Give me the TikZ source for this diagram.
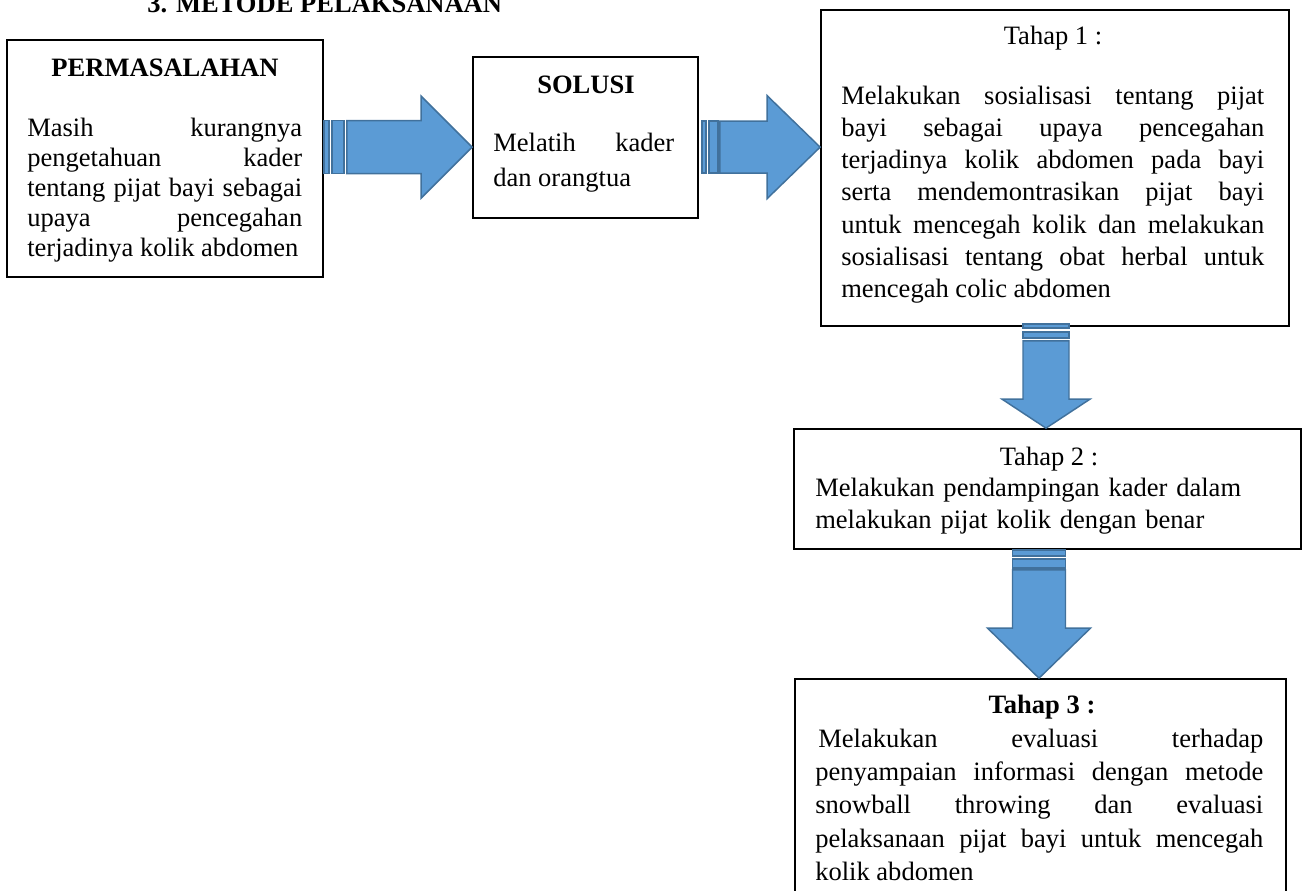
\documentclass[tikz,border=0pt]{standalone}
\usepackage{fontspec}
\setmainfont{Liberation Serif}
\usetikzlibrary{calc,fit}
\definecolor{arrowfill}{RGB}{91,155,213}
\definecolor{arrowline}{RGB}{65,113,156}
\newcommand\tightpar{\tolerance=10000 \hyphenpenalty=10000 \exhyphenpenalty=10000 \emergencystretch=0pt }
% horizontal block arrow: #1 start, #2 tip, #3 half thickness, #4 head half, #5 head length,
% #6 stripe1 end, #7 stripe2 start, #8 stripe2 end, #9 body start
\newcommand\hblockarrow[9]{%
  \path[blk] ($(#1)+(0,-#3)$) rectangle ($(#1)+(#6,#3)$);
  \path[blk] ($(#1)+(#7,-#3)$) rectangle ($(#1)+(#8,#3)$);
  \path[blk] ($(#1)+(#9,-#3)$) -- ($(#2)+(-#5,-#3)$) -- ($(#2)+(-#5,-#4)$) -- (#2)
     -- ($(#2)+(-#5,#4)$) -- ($(#2)+(-#5,#3)$) -- ($(#1)+(#9,#3)$) -- cycle;}
\newcommand\vblockarrow[9]{%
  \path[blk] ($(#1)+(-#3,0)$) rectangle ($(#1)+(#3,#6)$);
  \path[blk] ($(#1)+(-#3,#7)$) rectangle ($(#1)+(#3,#8)$);
  \path[blk] ($(#1)+(-#3,#9)$) -- ($(#2)+(-#3,-#5)$) -- ($(#2)+(-#4,-#5)$) -- (#2)
     -- ($(#2)+(#4,-#5)$) -- ($(#2)+(#3,-#5)$) -- ($(#1)+(#3,#9)$) -- cycle;}
\tikzset{
  box/.style={draw, line width=1.3pt, inner sep=0pt},
  bodytext/.style={inner sep=0pt, anchor=base west, align=justify,
    font=\fontsize{19.9pt}{#1}\selectfont\tightpar},
  headtext/.style={inner sep=0pt, anchor=base, font=\fontsize{19.9pt}{24pt}\selectfont\bfseries},
  plaintext/.style={inner sep=0pt, anchor=base, font=\fontsize{19.9pt}{24pt}\selectfont},
  blk/.style={fill=arrowfill, draw=arrowline, line width=1.1pt, line join=miter},
}
\begin{document}
\begin{tikzpicture}[x=0.75pt, y=-0.75pt]
\useasboundingbox (0,0) rectangle (1303,890);
\clip (0,0) rectangle (1303,890);

% title
\node[headtext, anchor=base west] (title) at (147,12) {3. METODE PELAKSANAAN};

% boxes
\node[box, fit={(7,40) (323,277)}] (b1) {};
\node[box, fit={(473,57) (698,218)}] (b2) {};
\node[box, fit={(821,10) (1289,326)}] (b3) {};
\node[box, fit={(794,429) (1301,549)}] (b4) {};
\node[box, fit={(795,679) (1286,905)}] (b5) {};

% box 1 text
\node[headtext] (h1) at (165,76) {PERMASALAHAN};
\node[bodytext=22.5pt, text width=206.25pt] (t1) at (27,136)
  {Masih kurangnya\linebreak pengetahuan kader\linebreak tentang pijat bayi sebagai\linebreak upaya pencegahan\linebreak terjadinya kolik abdomen};

% box 2 text
\node[headtext] (h2) at (586,93) {SOLUSI};
\node[bodytext=26.25pt, text width=135.75pt] (t2) at (493,151)
  {Melatih kader\linebreak dan orangtua};

% box 3 text
\node[plaintext] (h3) at (1053,44) {Tahap 1 :};
\node[bodytext=24.2pt, text width=317.25pt] (t3) at (841,104)
  {Melakukan sosialisasi tentang pijat\linebreak bayi sebagai upaya pencegahan\linebreak terjadinya kolik abdomen pada bayi\linebreak serta mendemontrasikan pijat bayi\linebreak untuk mencegah kolik dan melakukan\linebreak sosialisasi tentang obat herbal untuk\linebreak mencegah colic abdomen};

% box 4 text
\node[plaintext] (h4) at (1049,465) {Tahap 2 :};
\node[bodytext=24pt, text width=322.5pt, align=left] (t4) at (815,496)
  {Melakukan pendampingan kader dalam\\ melakukan pijat kolik dengan benar};

% box 5 text
\node[headtext] (h5) at (1042,713) {Tahap 3 :};
\node[bodytext=25.1pt, text width=336pt] (t5) at (815,747)
  {\hspace*{2.25pt}Melakukan evaluasi terhadap\linebreak penyampaian informasi dengan metode\linebreak snowball throwing dan evaluasi\linebreak pelaksanaan pijat bayi untuk mencegah\linebreak kolik abdomen};

% arrow anchors
\coordinate (a1s) at ($(b1.north east)+(0,108)$);
\coordinate (a1t) at (b2.west |- a1s);
\coordinate (a2s) at ($(b2.north east)+(3,91)$);
\coordinate (a2t) at (b3.west |- a2s);
\coordinate (a3s) at ($(b3.south)+(-9,-3)$);
\coordinate (a3t) at (a3s |- b4.north);
\coordinate (a4s) at ($(b4.south)+(-8.5,0)$);
\coordinate (a4t) at (a4s |- b5.north);

% block arrows
\hblockarrow{a1s}{a1t}{26.5}{51}{51}{5}{8}{20}{23}
\hblockarrow{a2s}{a2t}{26}{51.5}{53}{4}{7}{16}{18}
\vblockarrow{a3s}{a3t}{23}{44}{29}{4}{8}{14}{17}
\vblockarrow{a4s}{a4t}{26.5}{51.5}{50}{6}{9}{18}{20}
\end{tikzpicture}
\end{document}
